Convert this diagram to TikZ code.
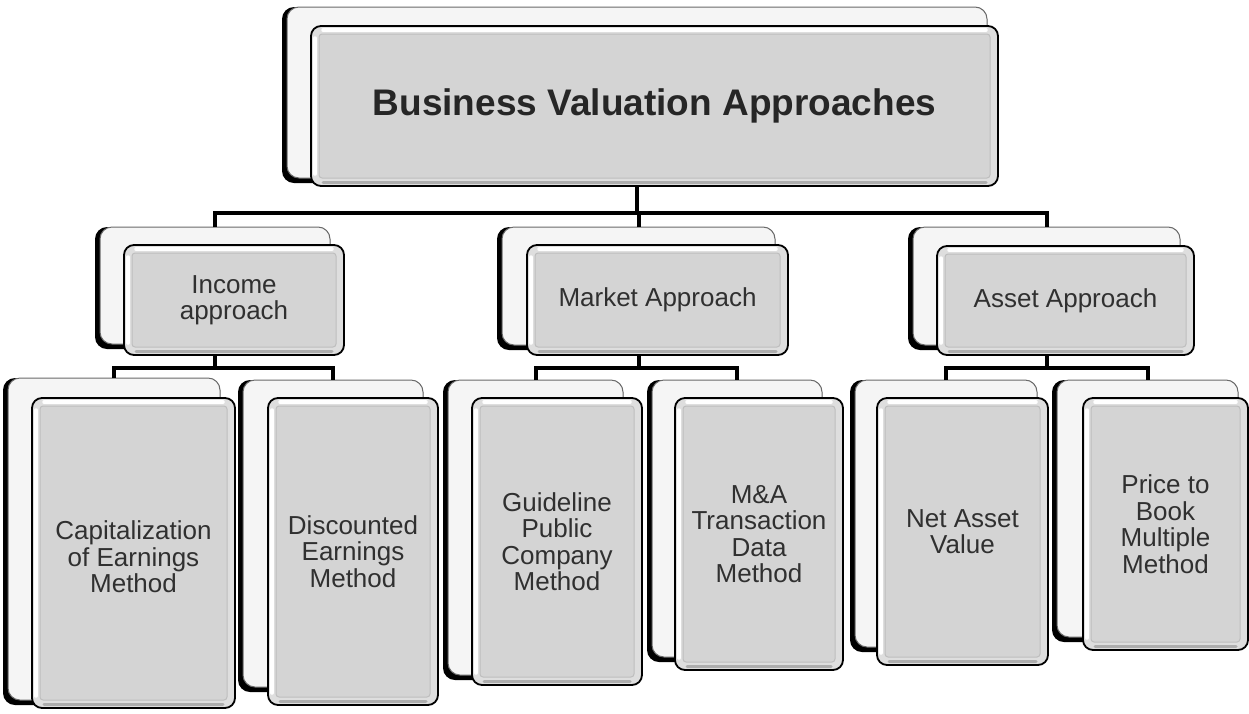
\documentclass[tikz,border=0pt]{standalone}
\usepackage{fontspec}
\setmainfont{Liberation Sans}
\usetikzlibrary{fit,calc}
\definecolor{facefill}{HTML}{D4D4D4}
\definecolor{faceedge}{HTML}{BEBEBE}
\definecolor{bandfill}{HTML}{DEDEDE}
\definecolor{backfill}{HTML}{F5F5F5}
\definecolor{backedge}{HTML}{6A6A6A}
\definecolor{textcol}{HTML}{303030}
\definecolor{titlecol}{HTML}{262626}
\tikzset{
  shadowbox/.style={fill=black, rounded corners=12pt},
  backbox/.style={fill=backfill, draw=backedge, line width=1pt, rounded corners=12pt, inner sep=0pt, outer sep=0pt},
  frontbox/.style={fill=bandfill, draw=black, line width=1.8pt, rounded corners=10pt, inner sep=0pt, outer sep=0pt},
  bevel/.style={fill=facefill, draw=faceedge, line width=1pt, rounded corners=3pt},
  hilite/.style={draw=white, line width=3.5pt, line cap=round},
  lowlite/.style={draw=black!32, line width=3pt, line cap=round},
  conn/.style={draw=black, line width=4pt},
  lab/.style={font=\fontsize{26}{26.5}\selectfont, text=textcol, align=center, inner sep=0pt},
  title/.style={font=\bfseries\fontsize{37}{40}\selectfont, text=titlecol, inner sep=0pt}
}
\newcommand\mkbox[5]{%
  \fill[shadowbox] ($(#2)+(-5,0)$) rectangle ($(#3)+(0,5)$);
  \node[backbox, fit={(#2)(#3)}] (#1b) {};
  \node[frontbox, fit={(#4)(#5)}] (#1) {};
  \draw[hilite] ($(#1.north west)+(4,12)$) -- ($(#1.south west)+(4,-12)$);
  \draw[hilite] ($(#1.north west)+(12,4)$) -- ($(#1.north east)+(-12,4)$);
  \draw[lowlite] ($(#1.south west)+(12,-4)$) -- ($(#1.south east)+(-12,-4)$);
  \draw[bevel] ($(#1.north west)+(8,8)$) rectangle ($(#1.south east)+(-8,-8)$);
}
\begin{document}
\begin{tikzpicture}[x=1pt,y=-1pt]
\useasboundingbox (0,0) rectangle (1249,713);
% level 0
\mkbox{top}{287,7}{987,178}{311,26}{998,186}
\node[title] (toptext) at (top) {Business Valuation Approaches};
% level 1
\mkbox{inc}{100,227}{330,344}{124,245}{344,355}
\node[lab] (inctext) at (inc) {Income\\approach};
\mkbox{mkt}{502,227}{775,345}{527,245}{788,355}
\node[lab] (mkttext) at (mkt) {Market Approach};
\mkbox{ass}{913,227}{1180,345}{937,246}{1194,355}
\node[lab] (asstext) at (ass) {Asset Approach};
% level 2
\mkbox{cap}{8,378}{220,700}{32,398}{235,708}
\node[lab] (captext) at ($(cap)+(0,4)$) {Capitalization\\of Earnings\\Method};
\mkbox{disc}{243,380}{423,687}{268,398}{438,705}
\node[lab] (disctext) at (disc) {Discounted\\Earnings\\Method};
\mkbox{guide}{448,380}{623,675}{472,398}{642,685}
\node[lab] (guidetext) at (guide) {Guideline\\Public\\Company\\Method};
\mkbox{mna}{652,380}{822,657}{675,398}{843,670}
\node[lab] (mnatext) at (mna) {M\&A\\Transaction\\Data\\Method};
\mkbox{net}{855,380}{1037,647}{877,398}{1048,665}
\node[lab] (nettext) at (net) {Net Asset\\Value};
\mkbox{ptb}{1057,380}{1238,637}{1083,398}{1248,650}
\node[lab] (ptbtext) at (ptb) {Price to\\Book\\Multiple\\Method};
% connectors
\draw[conn] (top.south -| topb.south) -- ++(0,27) coordinate (j0);
\draw[conn] (incb.north) |- (j0) -| (assb.north);
\draw[conn] (mktb.north) -- (mktb.north |- j0);
\draw[conn] (inc.south -| incb.south) -- ++(0,13) coordinate (j1);
\draw[conn] (capb.north) |- (j1) -| (discb.north);
\draw[conn] (mkt.south -| mktb.south) -- ++(0,13) coordinate (j2);
\draw[conn] (guideb.north) |- (j2) -| (mnab.north);
\draw[conn] (ass.south -| assb.south) -- ++(0,13) coordinate (j3);
\draw[conn] (netb.north) |- (j3) -| (ptbb.north);
\end{tikzpicture}
\end{document}
